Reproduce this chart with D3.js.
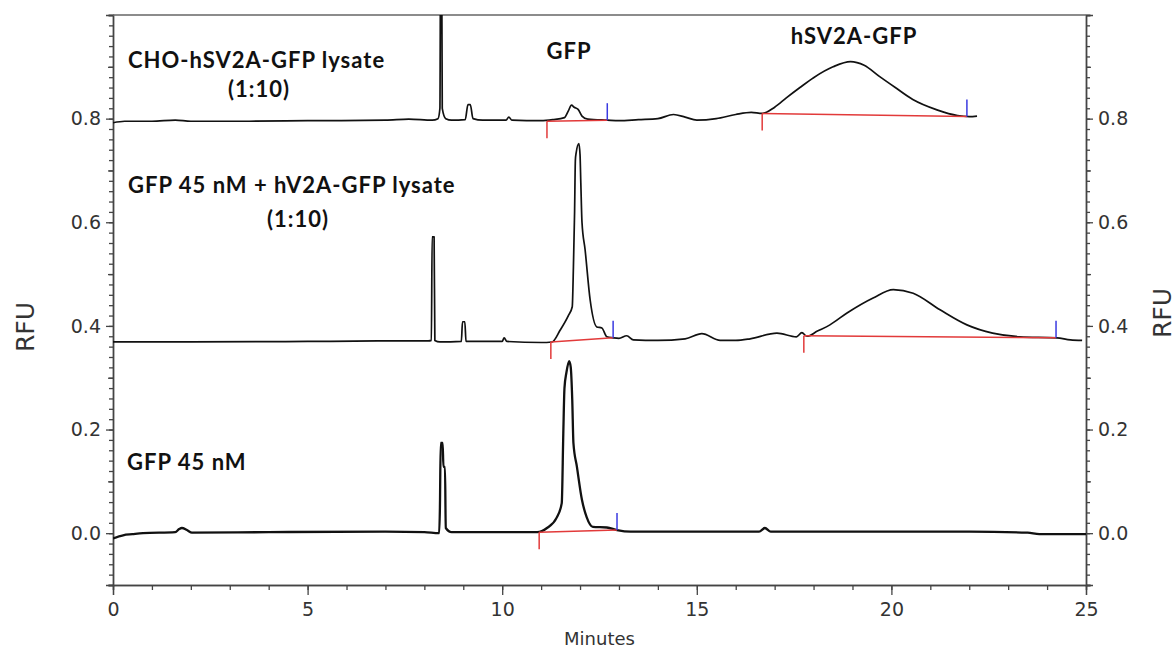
<!DOCTYPE html>
<html>
<head>
<meta charset="utf-8">
<script src="https://cdn.jsdelivr.net/npm/d3@7"></script>
<style>
  body { margin: 0; background: #fff; }
  .axis path, .axis line { stroke: #444; stroke-width: 1.3; }
  .axis text { font-family: "DejaVu Sans", sans-serif; font-size: 19px; fill: #333; }
  .trace { fill: none; stroke: #111; stroke-linejoin: round; }
  .note { font-family: Lato, "Open Sans", sans-serif; font-weight: bold; font-size: 22px; letter-spacing: 1px; fill: #111; }
  .title { font-family: "DejaVu Sans", sans-serif; fill: #333; }
</style>
</head>
<body>
<script>
// Electropherogram traces, [minutes, RFU]
var choLysate = [
  [0, 0.792], [0.3, 0.795], [1.0, 0.795], [1.6, 0.797], [2.0, 0.795], [3.5, 0.795],
  [5.0, 0.796], [7.0, 0.797], [7.6, 0.799], [8.2, 0.797], [8.35, 0.80], [8.40, 0.82],
  [8.42, 1.2], [8.44, 1.2], [8.46, 0.82], [8.55, 0.80], [8.7, 0.797], [9.05, 0.798],
  [9.12, 0.827], [9.18, 0.827], [9.25, 0.80], [9.5, 0.797], [10.1, 0.797], [10.17, 0.803],
  [10.25, 0.797], [11.0, 0.796], [11.3, 0.798], [11.6, 0.802], [11.7, 0.815], [11.78, 0.826],
  [11.85, 0.822], [11.95, 0.818], [12.05, 0.805], [12.2, 0.799], [12.7, 0.797], [13.0, 0.796],
  [13.5, 0.798], [14.0, 0.800], [14.4, 0.808], [14.7, 0.803], [15.0, 0.797], [15.5, 0.800],
  [16.0, 0.808], [16.4, 0.812], [16.68, 0.81], [17.0, 0.822], [17.3, 0.840], [17.65, 0.860],
  [18.0, 0.879], [18.5, 0.900], [18.95, 0.910], [19.3, 0.903], [19.7, 0.881], [20.1, 0.860],
  [20.55, 0.837], [21.17, 0.817], [21.7, 0.806], [22.0, 0.804], [22.2, 0.805]
];

var gfpPlusLysate = [
  [0, 0.369], [2, 0.369], [5, 0.370], [7, 0.371], [8.1, 0.371], [8.18, 0.372], [8.2, 0.572],
  [8.25, 0.572], [8.27, 0.372], [8.4, 0.369], [8.95, 0.370], [8.98, 0.408], [9.04, 0.408],
  [9.07, 0.370], [10.0, 0.370], [10.05, 0.377], [10.12, 0.370], [11.0, 0.368], [11.28, 0.369],
  [11.49, 0.392], [11.7, 0.42], [11.8, 0.437], [11.83, 0.514], [11.86, 0.62], [11.88, 0.72],
  [11.9, 0.734], [11.97, 0.752], [12.0, 0.73], [12.02, 0.676], [12.05, 0.60], [12.13, 0.547],
  [12.26, 0.45], [12.43, 0.398], [12.56, 0.396], [12.69, 0.379], [12.85, 0.377], [13.0, 0.376],
  [13.2, 0.381], [13.37, 0.373], [14.0, 0.372], [14.7, 0.375], [15.13, 0.385], [15.6, 0.372],
  [16.0, 0.372], [16.37, 0.375], [17.06, 0.386], [17.56, 0.379], [17.7, 0.387], [17.83, 0.38],
  [18.1, 0.39], [18.42, 0.402], [18.86, 0.425], [19.53, 0.454], [20.05, 0.47], [20.56, 0.463],
  [21.25, 0.431], [21.94, 0.402], [22.6, 0.386], [23.3, 0.379], [24.25, 0.377], [24.6, 0.373],
  [24.9, 0.372]
];

var gfpOnly = [
  [0, -0.010], [0.26, -0.004], [0.5, -0.002], [0.77, 0.0], [1.6, 0.002], [1.7, 0.008],
  [1.77, 0.010], [1.9, 0.006], [2.03, 0.001], [4.0, 0.002], [7.0, 0.003],
  [8.0, 0.002], [8.38, 0.0], [8.40, 0.05], [8.42, 0.174], [8.47, 0.174], [8.49, 0.128],
  [8.53, 0.128], [8.55, 0.01], [8.7, 0.002], [10.9, 0.002], [11.15, 0.01], [11.4, 0.03],
  [11.53, 0.058], [11.57, 0.193], [11.6, 0.28], [11.65, 0.31], [11.72, 0.332], [11.76, 0.321],
  [11.8, 0.257], [11.83, 0.174], [11.92, 0.128], [12.05, 0.064], [12.17, 0.031], [12.33, 0.012],
  [12.69, 0.011], [12.95, 0.006], [13.3, 0.003], [16.6, 0.003], [16.75, 0.010], [16.9, 0.003],
  [22.0, 0.003], [23.5, 0.001], [23.8, -0.002], [25, -0.002]
];

// integration baselines: [start min, start RFU, end min, end RFU]
var choBaselines = [[11.15, 0.795, 12.7, 0.797], [16.68, 0.81, 21.94, 0.804]];
var mixBaselines = [[11.25, 0.369, 12.85, 0.377], [17.75, 0.381, 24.23, 0.377]];
var gfpBaselines = [[10.95, 0.002, 12.95, 0.006]];

var xMajor = [0, 5, 10, 15, 20, 25];
var yMajor = [0, 0.2, 0.4, 0.6, 0.8];

// Set the dimensions
var W = 1176, H = 649;
var padL = 113, padR = 1086, padT = 15, padB = 585;

var x = d3.scaleLinear().domain([0, 25]).range([padL, padR]);
var y = d3.scaleLinear().domain([-0.1, 1.0]).range([padB, padT]);

var svg = d3.select("body").append("svg")
    .attr("width", W)
    .attr("height", H);

svg.append("defs").append("clipPath").attr("id", "plot")
  .append("rect").attr("x", padL).attr("y", padT)
  .attr("width", padR - padL).attr("height", padB - padT);

// minor ticks first, then the labelled ones
function yAxes(make, xpos) {
  svg.append("g").attr("class", "axis").attr("transform", "translate(" + xpos + ",0)")
    .call(make(y).tickValues(d3.range(-0.1, 1.001, 0.02)).tickSize(4).tickFormat(""));
  svg.append("g").attr("class", "axis").attr("transform", "translate(" + xpos + ",0)")
    .call(make(y).tickValues([-0.1, 0.1, 0.3, 0.5, 0.7, 0.9]).tickSize(5).tickFormat(""));
  svg.append("g").attr("class", "axis").attr("transform", "translate(" + xpos + ",0)")
    .call(make(y).tickValues(yMajor).tickSize(7).tickPadding(5).tickFormat(d3.format(".1f")));
}
yAxes(d3.axisLeft, padL);
yAxes(d3.axisRight, padR);

svg.append("g").attr("class", "axis").attr("transform", "translate(0," + padB + ")")
  .call(d3.axisBottom(x).tickValues(d3.range(0, 26, 1)).tickSize(5).tickFormat(""));
svg.append("g").attr("class", "axis").attr("transform", "translate(0," + padB + ")")
  .call(d3.axisBottom(x).tickValues(xMajor).tickSize(10).tickPadding(8).tickFormat(d3.format("d")));

// top frame line
svg.append("line")
  .attr("x1", x(0)).attr("x2", x(25)).attr("y1", y(1.0)).attr("y2", y(1.0))
  .attr("stroke", "#666").attr("stroke-width", 1.5);

var line = d3.line()
  .curve(d3.curveMonotoneX)
  .x(function (d) { return x(d[0]); })
  .y(function (d) { return y(d[1]); });

var plot = svg.append("g").attr("clip-path", "url(#plot)");

// baselines with start (red) and end (blue) markers
function drawBaselines(list) {
  list.forEach(function (b) {
    plot.append("line")
      .attr("x1", x(b[0])).attr("y1", y(b[1])).attr("x2", x(b[2])).attr("y2", y(b[3]))
      .attr("stroke", "#e23a3a").attr("stroke-width", 1.5);
    plot.append("line")
      .attr("x1", x(b[0])).attr("y1", y(b[1])).attr("x2", x(b[0])).attr("y2", y(b[1]) + 17)
      .attr("stroke", "#e23a3a").attr("stroke-width", 1.5);
    plot.append("line")
      .attr("x1", x(b[2])).attr("y1", y(b[3])).attr("x2", x(b[2])).attr("y2", y(b[3]) - 17)
      .attr("stroke", "#3a3ae0").attr("stroke-width", 1.5);
  });
}

plot.append("path").datum(choLysate).attr("class", "trace").attr("stroke-width", 1.7).attr("d", line);
plot.append("path").datum(gfpPlusLysate).attr("class", "trace").attr("stroke-width", 1.7).attr("d", line);
plot.append("path").datum(gfpOnly).attr("class", "trace").attr("stroke-width", 2.3).attr("d", line);

drawBaselines(choBaselines);
drawBaselines(mixBaselines);
drawBaselines(gfpBaselines);

// annotations
svg.append("text").attr("class", "note").attr("x", 128).attr("y", 68).text("CHO-hSV2A-GFP lysate");
svg.append("text").attr("class", "note").attr("x", 259).attr("y", 97).attr("text-anchor", "middle").text("(1:10)");
svg.append("text").attr("class", "note").attr("x", 569).attr("y", 59).attr("text-anchor", "middle").text("GFP");
svg.append("text").attr("class", "note").attr("x", 854).attr("y", 44).attr("text-anchor", "middle").text("hSV2A-GFP");
svg.append("text").attr("class", "note").attr("x", 128).attr("y", 193).text("GFP 45 nM + hV2A-GFP lysate");
svg.append("text").attr("class", "note").attr("x", 298).attr("y", 227).attr("text-anchor", "middle").text("(1:10)");
svg.append("text").attr("class", "note").attr("x", 127).attr("y", 470).text("GFP 45 nM");

// axis titles
svg.append("text").attr("class", "title").attr("font-size", 18)
  .attr("x", (padL + padR) / 2).attr("y", 645).attr("text-anchor", "middle").text("Minutes");
svg.append("text").attr("class", "title").attr("font-size", 25)
  .attr("transform", "translate(34,327) rotate(-90)").attr("text-anchor", "middle").text("RFU");
svg.append("text").attr("class", "title").attr("font-size", 25)
  .attr("transform", "translate(1171,313) rotate(-90)").attr("text-anchor", "middle").text("RFU");
</script>
</body>
</html>
